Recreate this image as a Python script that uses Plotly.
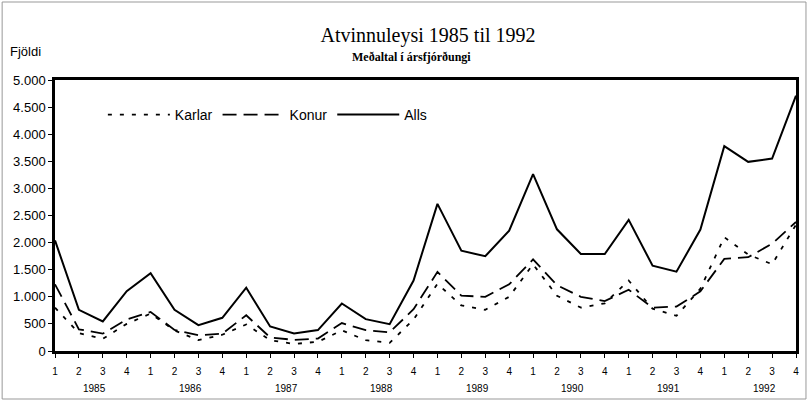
import plotly.graph_objects as go

years = ["1985", "1986", "1987", "1988", "1989", "1990", "1991", "1992"]
quarters = ["1", "2", "3", "4"]

karlar = [800, 330, 225, 500, 690, 380, 200, 300,
          490, 200, 130, 170, 380, 200, 150, 580,
          1240, 840, 760, 1000, 1600, 1020, 800, 880,
          1300, 780, 650, 1150, 2100, 1780, 1600, 2330]
konur = [1230, 400, 320, 580, 720, 390, 290, 320,
         660, 250, 205, 230, 515, 385, 345, 770,
         1460, 1020, 1000, 1230, 1690, 1215, 1000, 920,
         1130, 800, 820, 1100, 1700, 1730, 1980, 2380]
alls = [2040, 760, 546, 1105, 1434, 760, 478, 613,
        1168, 452, 325, 386, 876, 588, 496, 1300,
        2715, 1850, 1748, 2220, 3265, 2245, 1790, 1790,
        2420, 1574, 1463, 2240, 3780, 3490, 3550, 4710]

series = [("Karlar", karlar, "4px,8px", 1.8),
          ("Konur", konur, "14px,7px", 1.8),
          ("Alls", alls, "solid", 2.0)]

n = len(alls)
xs = list(range(n))

fig = go.Figure()
for name, vals, dash, w in series:
    fig.add_trace(go.Scatter(x=xs, y=vals, mode="lines", name=name,
                             line=dict(color="black", width=w, dash=dash)))

tick_text = [quarters[i % 4] for i in xs]

annotations = []
for i, yr in enumerate(years):
    annotations.append(dict(x=4 * i + 1.5, y=-0.14, xref="x", yref="paper", xshift=4,
                            text=yr, showarrow=False, xanchor="center", yanchor="middle",
                            font=dict(family="Liberation Sans, Arial", size=10, color="black")))
annotations.append(dict(x=-0.063, y=1.105, xref="paper", yref="paper", text="Fjöldi",
                        showarrow=False, xanchor="left", yanchor="middle",
                        font=dict(family="Liberation Sans, Arial", size=13, color="black")))
annotations.append(dict(x=(412 - 55) / 743, y=(351 - 57) / 271, xref="paper", yref="paper",
                        text="<b>Meðaltal í ársfjórðungi</b>", showarrow=False,
                        xanchor="center", yanchor="middle",
                        font=dict(family="Liberation Serif, Times New Roman", size=12, color="black")))

fig.update_layout(
    width=811, height=403,
    margin=dict(l=55, r=13, t=80, b=52),
    paper_bgcolor="white", plot_bgcolor="white",
    separators=",.",
    title=dict(text="Atvinnuleysi 1985 til 1992", x=428 / 811, xanchor="center",
               y=1 - 35 / 403, yanchor="middle",
               font=dict(family="Liberation Serif, Times New Roman", size=20, color="black")),
    showlegend=True,
    legend=dict(orientation="h", x=(103 - 55) / 743, y=(351 - 115) / 271,
                xanchor="left", yanchor="middle", bgcolor="rgba(0,0,0,0)",
                itemwidth=62, tracegroupgap=0,
                font=dict(family="Liberation Sans, Arial", size=14, color="black")),
    annotations=annotations,
    shapes=[dict(type="rect", xref="paper", yref="paper",
                 x0=(2 - 55) / 743, x1=(808 - 55) / 743,
                 y0=(351 - 399) / 271, y1=(351 - 2) / 271,
                 line=dict(color="#999999", width=1))],
)

fig.update_xaxes(range=[0, n - 1], tickmode="array", tickvals=xs, ticktext=tick_text,
                 showgrid=False, zeroline=False, showline=True, mirror=True,
                 linecolor="black", linewidth=2.5, ticks="outside", ticklen=4,
                 tickcolor="black", tickwidth=1, ticklabelstandoff=5,
                 tickfont=dict(family="Liberation Sans, Arial", size=10, color="black"))
fig.update_yaxes(range=[0, 5000], dtick=500, tickformat=",d",
                 showgrid=False, zeroline=False, showline=True, mirror=True,
                 linecolor="black", linewidth=2.5, ticks="outside", ticklen=4,
                 tickcolor="black", tickwidth=1,
                 tickfont=dict(family="Liberation Sans, Arial", size=13, color="black"))

fig.write_html("out.html", config={"displayModeBar": False},
               post_script="document.body.style.margin='0';")
